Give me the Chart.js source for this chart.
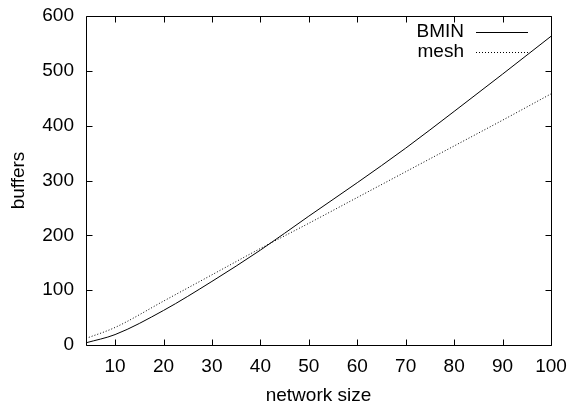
<!DOCTYPE html>
<html>
<head>
<meta charset="utf-8">
<script src="https://cdn.jsdelivr.net/npm/chart.js@4.4.1/dist/chart.umd.min.js"></script>
<style>
  body { margin: 0; background: #fff; }
  canvas { display: block; }
</style>
</head>
<body>
<canvas id="myChart" width="568" height="407"></canvas>
<script>
// values
var sizes = [4, 10, 20, 30, 40, 50, 60, 70, 80, 90, 100];
var bmin = [4, 19, 63, 116, 173, 235, 296, 359, 426, 494, 563];
var mesh = [12, 32, 80, 128, 176, 222, 269, 316, 363, 410, 458];
var xTicks = [10, 20, 30, 40, 50, 60, 70, 80, 90, 100];
var yTicks = [0, 100, 200, 300, 400, 500, 600];

var FONT = 'Liberation Sans, Arial, Helvetica, sans-serif';

function pts(ys) {
  return sizes.map(function (x, i) { return {x: x, y: ys[i]}; });
}

// gnuplot style frame: box, inward ticks on all four sides, key top right
var frame = {
  id: 'frame',
  afterDatasetsDraw: function (chart) {
    var ctx = chart.ctx, a = chart.chartArea;
    var xs = chart.scales.x, ys = chart.scales.y;
    var L = Math.round(a.left) + 0.5, R = Math.round(a.right) + 0.5;
    var T = Math.round(a.top) + 0.5, B = Math.round(a.bottom) + 0.5;
    ctx.save();
    ctx.strokeStyle = '#000';
    ctx.lineWidth = 1;
    ctx.beginPath();
    ctx.rect(L, T, R - L, B - T);
    xTicks.forEach(function (v) {
      var px = Math.round(xs.getPixelForValue(v)) + 0.5;
      ctx.moveTo(px, B); ctx.lineTo(px, B - 6);
      ctx.moveTo(px, T); ctx.lineTo(px, T + 6);
    });
    yTicks.forEach(function (v) {
      var py = Math.round(ys.getPixelForValue(v)) + 0.5;
      ctx.moveTo(L, py); ctx.lineTo(L + 6, py);
      ctx.moveTo(R, py); ctx.lineTo(R - 6, py);
    });
    ctx.stroke();

    // key
    ctx.font = '19px ' + FONT;
    ctx.fillStyle = '#000';
    ctx.textAlign = 'right';
    ctx.textBaseline = 'middle';
    chart.data.datasets.forEach(function (ds, i) {
      var y = 32 + i * 20;
      ctx.fillText(ds.label, 464, y);
      ctx.setLineDash(ds.borderDash || []);
      ctx.beginPath();
      ctx.moveTo(476, y + 0.5);
      ctx.lineTo(528, y + 0.5);
      ctx.stroke();
    });
    ctx.restore();
  }
};

var ctx = document.getElementById('myChart').getContext('2d');
var chart = new Chart(ctx, {
  type: 'line',
  data: {
    datasets: [{
      label: 'BMIN',
      data: pts(bmin),
      borderColor: '#000',
      borderWidth: 1,
      cubicInterpolationMode: 'monotone',
      pointRadius: 0
    }, {
      label: 'mesh',
      data: pts(mesh),
      borderColor: '#000',
      borderWidth: 1,
      borderDash: [1, 2],
      cubicInterpolationMode: 'monotone',
      pointRadius: 0
    }]
  },
  options: {
    responsive: false,
    animation: false,
    layout: {autoPadding: false, padding: {top: 16, right: 17, left: 0, bottom: 0}},
    plugins: {legend: {display: false}, tooltip: {enabled: false}},
    scales: {
      x: {
        type: 'linear',
        min: 4,
        max: 100,
        afterBuildTicks: function (s) {
          s.ticks = xTicks.map(function (v) { return {value: v}; });
        },
        afterFit: function (s) {
          s.height = 62;
          s.paddingLeft = 0;
          s.paddingRight = 0;
        },
        grid: {display: false, tickLength: 0},
        border: {display: false},
        ticks: {color: '#000', padding: 10, maxRotation: 0, font: {family: FONT, size: 19}},
        title: {display: true, text: 'network size', color: '#000', padding: {top: 0, bottom: 0},
          font: {family: FONT, size: 19, lineHeight: 1.2}}
      },
      y: {
        min: 0,
        max: 600,
        afterBuildTicks: function (s) {
          s.ticks = yTicks.map(function (v) { return {value: v}; });
        },
        afterFit: function (s) {
          s.width = 86;
          s.paddingTop = 0;
          s.paddingBottom = 0;
        },
        grid: {display: false, tickLength: 0},
        border: {display: false},
        ticks: {color: '#000', padding: 12, font: {family: FONT, size: 19}},
        title: {display: true, text: 'buffers', color: '#000', padding: {top: 7, bottom: 0},
          font: {family: FONT, size: 19, lineHeight: 1.2}}
      }
    }
  },
  plugins: [frame]
});
</script>
</body>
</html>
